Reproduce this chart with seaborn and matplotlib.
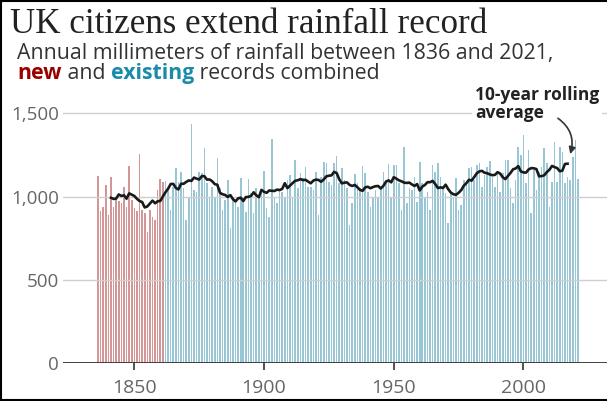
import matplotlib
matplotlib.use("Agg")
import matplotlib.pyplot as plt
import seaborn as sns
import pandas as pd
from matplotlib.lines import Line2D

# ---- data (annual UK rainfall, mm) ----
new_years = list(range(1836, 1862))
new_rainfall = [1124, 915, 940, 1070, 890, 1120, 935, 1000, 975, 960,
                1055, 940, 1185, 980, 930, 915, 1255, 920, 900, 790,
                920, 880, 860, 1040, 1105, 1090]

existing_years = list(range(1862, 2022))
existing_rainfall = [1095, 1040, 920, 1060, 1170, 1090, 1145, 1050,
                     860, 1000, 1436, 1040, 1030, 1150, 1140, 1290, 1080, 1000,
                     1060, 1000, 1230, 1050, 920, 980, 1100, 810, 990, 960,
                     940, 1110, 990, 910, 1104, 1020, 900, 1050, 1000, 1020,
                     1154, 930, 880, 1344, 990, 960, 1040, 1030, 990, 1100,
                     1130, 1000, 1220, 1050, 1140, 1110, 1180, 1060, 1060, 1040,
                     1150, 890, 1120, 1210, 1200, 1090, 1070, 1200, 1244, 1080,
                     1170, 1100, 1050, 830, 960, 1136, 1080, 1050, 1184, 1140,
                     1030, 940, 1000, 1040, 990, 1050, 1150, 1100, 1196, 990,
                     1190, 1190, 1080, 920, 1300, 960, 1050, 1040, 1120, 970,
                     1210, 1080, 990, 1030, 920, 1190, 1150, 1204, 1120, 1050,
                     1020, 840, 1030, 1000, 1110, 920, 950, 1100, 1090, 1170,
                     1180, 1100, 1190, 1200, 1060, 1130, 1180, 1214, 1120, 1060,
                     1150, 1030, 1140, 1220, 1220, 1050, 960, 1100, 1300, 1250,
                     1370, 1080, 1280, 900, 1160, 1040, 1150, 1180, 1290, 1200,
                     940, 1090, 1330, 1090, 1300, 1270, 1080, 1120, 1100, 1240,
                     1340, 1104]

y_ticks = [0, 500, 1000, 1500]
y_tick_labels = ["0", "500", "1,000", "1,500"]
x_ticks = [1850, 1900, 1950, 2000]

df = pd.DataFrame({
    "year": new_years + existing_years,
    "rainfall": new_rainfall + existing_rainfall,
    "source": ["new"] * len(new_years) + ["existing"] * len(existing_years),
})
df["rolling"] = df["rainfall"].rolling(10, center=True).mean()

W, H = 607, 401
fig = plt.figure(figsize=(W / 100, H / 100), dpi=100)
ax = fig.add_axes([63 / W, (H - 363.3) / H, (W - 63) / W, (363.3 - 96.6) / H])

sns.barplot(data=df, x="year", y="rainfall", hue="source",
            palette={"new": "#d29696", "existing": "#98c6d5"},
            native_scale=True, dodge=False, width=0.62, errorbar=None,
            legend=False, saturation=1, linewidth=0, ax=ax, zorder=1)

for v in y_ticks[1:]:
    ax.axhline(v, color="#cfcfcf", lw=1, zorder=2)
ax.axhline(0, color="#333333", lw=1.3, zorder=4)

sns.lineplot(data=df, x="year", y="rolling", color="#1a1a1a", lw=1.9,
             ax=ax, zorder=5)

ax.set_xlim(1822.5, 2032.2)
ax.set_ylim(0, 1600)
ax.set_yticks(y_ticks)
ax.set_yticklabels(y_tick_labels)
ax.set_xticks(x_ticks)
ax.set_xticklabels([str(t) for t in x_ticks])
ax.set_xlabel("")
ax.set_ylabel("")
for s in ax.spines.values():
    s.set_visible(False)
ax.tick_params(axis="y", length=0, pad=3, labelsize=13.5, labelcolor="#666666")
ax.tick_params(axis="x", length=5, width=1.2, color="#333333", pad=6,
               labelsize=14, labelcolor="#666666")
for lab in ax.get_xticklabels() + ax.get_yticklabels():
    lab.set_family("Open Sans")
ax.patch.set_visible(False)

# ---- texts ----
fig.text(10 / W, 1 - 33 / H, "UK citizens extend rainfall record",
         family="Liberation Serif", size=25.2, color="#222222", va="baseline")
fig.text(17 / W, 1 - 59 / H,
         "Annual millimeters of rainfall between 1836 and 2021,",
         family="Open Sans", size=15.3, color="#333333", va="baseline")
t1 = fig.text(17 / W, 1 - 79 / H, "new", family="Open Sans", size=15.3,
              weight="bold", color="#990000", va="baseline")
t2 = ax.annotate(" and ", xy=(1, 0), xycoords=t1, va="bottom", ha="left",
                 family="Open Sans", size=15.3, color="#333333",
                 annotation_clip=False)
t3 = ax.annotate("existing", xy=(1, 0), xycoords=t2, va="bottom", ha="left",
                 family="Open Sans", size=15.3, weight="bold", color="#1b8bab",
                 annotation_clip=False)
ax.annotate(" records combined", xy=(1, 0), xycoords=t3, va="bottom",
            ha="left", family="Open Sans", size=15.3, color="#333333",
            annotation_clip=False)

ax.text(475 / W, 1 - 86 / H, "10-year rolling\naverage", family="Open Sans",
        size=12.5, weight="bold", color="#222222", va="top", ha="left",
        linespacing=1.0, transform=fig.transFigure, clip_on=False, zorder=5.5,
        bbox=dict(facecolor="white", edgecolor="none", pad=2))

ax.annotate("", xy=(2018.0, 1255), xytext=(2013.3, 1470),
            arrowprops=dict(arrowstyle="-|>", color="#333333", lw=1.2,
                            connectionstyle="arc3,rad=-0.35",
                            mutation_scale=10, shrinkA=0, shrinkB=0),
            annotation_clip=False, zorder=6)

# frame around figure (left, top, bottom)
fig.add_artist(Line2D([1 / W, 1 / W], [0, 1], color="black", lw=1.5,
                      transform=fig.transFigure))
fig.add_artist(Line2D([0, 1], [1 - 1 / H, 1 - 1 / H], color="black", lw=1.5,
                      transform=fig.transFigure))
fig.add_artist(Line2D([0, 1], [1 / H, 1 / H], color="black", lw=1.5,
                      transform=fig.transFigure))

fig.savefig("out.png", dpi=100)
